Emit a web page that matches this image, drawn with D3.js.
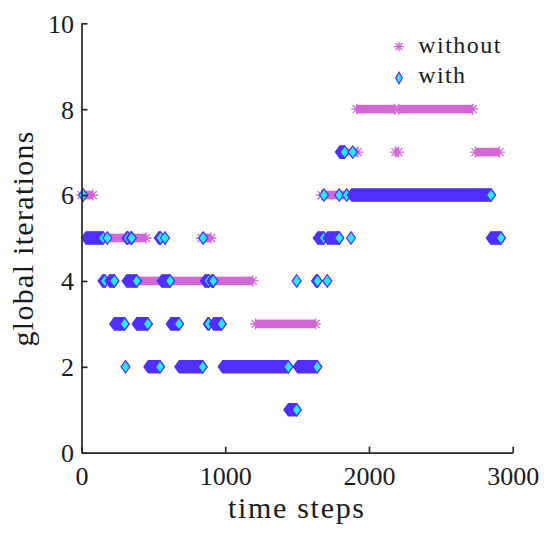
<!DOCTYPE html>
<html lang="en">
<head>
  <meta charset="UTF-8" />
  <title>global iterations vs time steps</title>
  <style>
    *{margin:0;padding:0;box-sizing:border-box}
    body{background:#fff;width:550px;height:537px;overflow:hidden}
  </style>
</head>
<body>
  <div id="chart"></div>

  <script src="https://d3js.org/d3.v7.min.js"></script>
  <script>
    // runs of consecutive time steps sharing the same iteration count
    const withoutStart = [0,   79,  390,  835, 1211, 1671, 1880, 1915, 2184, 2208, 2741];
    const withoutEnd   = [79, 449, 1192,  901, 1628, 1880, 1922, 2178, 2205, 2722, 2908];
    const withoutIter  = [6,    5,    4,    5,    3,    6,    7,    8,    7,    8,    7];

    const withStart = [12, 31, 180, 147, 195, 228, 306, 314, 342, 314, 384, 465, 538, 581, 558, 621, 680, 847,
                       859, 905, 879, 920, 982, 1439, 1497, 1504, 1632, 1644, 1687, 1712, 1710, 1793, 1798,
                       1845, 1875, 1880, 1887, 2847];
    const withEnd   = [12, 150, 180, 163, 228, 300, 306, 322, 349, 384, 461, 546, 550, 581, 616, 678, 843, 847,
                       885, 917, 885, 975, 1439, 1497, 1497, 1640, 1642, 1685, 1687, 1793, 1710, 1793, 1830,
                       1845, 1875, 2849, 1887, 2918];
    const withIter  = [6, 5, 5, 4, 4, 3, 2, 5, 5, 4, 3, 2, 5, 5, 4, 3, 2, 5,
                       4, 4, 3, 3, 2, 1, 4, 2, 4, 5, 6, 5, 4, 6, 7,
                       6, 5, 6, 7, 5];

    const xTicks = [0, 1000, 2000, 3000];
    const yTicks = [0, 2, 4, 6, 8, 10];
    const legendLabels = ['without', 'with'];

    const colors = { without:'#d267d8', edge:'#4f2eff', face:'#22eced', axis:'#262626', text:'#1a1a1a' };
    const font = '"Liberation Serif", "Times New Roman", serif';

    const width = 550, height = 537;
    const x = d3.scaleLinear().domain([0, 3000]).range([81.5, 512.7]);
    const y = d3.scaleLinear().domain([0, 10]).range([452.7, 23.3]);

    const svg = d3.select('#chart').append('svg')
      .attr('width', width).attr('height', height);

    // marker geometry (px)
    const dw = 4.5, dh = 6.2;   // diamond half width / half height
    const ar = 5.5;             // asterisk radius

    const star = (cx, cy, r) => {
      const d = r * 0.72;
      return `M${cx - r},${cy}H${cx + r}M${cx},${cy - r}V${cy + r}` +
             `M${cx - d},${cy - d}L${cx + d},${cy + d}M${cx - d},${cy + d}L${cx + d},${cy - d}`;
    };
    const diamond = (cx, cy, w, h) => `M${cx - w},${cy}L${cx},${cy - h}L${cx + w},${cy}L${cx},${cy + h}Z`;
    const hull = (x0, x1, cy) =>
      `M${x0 - dw},${cy}L${x0},${cy - dh}L${x1},${cy - dh}L${x1 + dw},${cy}L${x1},${cy + dh}L${x0},${cy + dh}Z`;

    // without: stacked asterisks -> solid band with spiky ends
    const without = withoutStart.map((s, i) => ({ s, e: withoutEnd[i], v: withoutIter[i] }));
    const gWo = svg.append('g');
    gWo.selectAll('rect').data(without).join('rect')
      .attr('x', d => x(d.s)).attr('width', d => x(d.e) - x(d.s))
      .attr('y', d => y(d.v) - 4.3).attr('height', 8.6)
      .attr('fill', colors.without);
    gWo.selectAll('path').data(without).join('path')
      .attr('d', d => star(x(d.s), y(d.v), ar) + star(x(d.e), y(d.v), ar))
      .attr('fill', 'none').attr('stroke', colors.without).attr('stroke-width', 1.3);

    // with: stacked diamonds -> blue hull, last diamond on top
    const withRuns = withStart.map((s, i) => ({ s, e: withEnd[i], v: withIter[i] }))
      .sort((a, b) => a.s - b.s);
    const gW = svg.append('g');
    withRuns.forEach(d => {
      if (d.e > d.s) {
        gW.append('path').attr('d', hull(x(d.s), x(d.e), y(d.v)))
          .attr('fill', colors.edge).attr('stroke', colors.edge).attr('stroke-width', 1.2);
      }
      gW.append('path').attr('d', diamond(x(d.e), y(d.v), dw, dh))
        .attr('fill', colors.face).attr('stroke', colors.edge).attr('stroke-width', 1.2);
    });

    // axes (MATLAB style: ticks inward, box off)
    const gx = svg.append('g').attr('transform', `translate(0,${y(0)})`)
      .call(d3.axisBottom(x).tickValues(xTicks).tickSizeInner(-6).tickSizeOuter(0).tickFormat(d3.format('d')));
    gx.selectAll('text').attr('y', 32.5).attr('dy', null);

    const gy = svg.append('g').attr('transform', `translate(${x(0)},0)`)
      .call(d3.axisLeft(y).tickValues(yTicks).tickSizeInner(-6).tickSizeOuter(0));
    gy.selectAll('text').attr('x', -7.5).attr('dy', '0.34em');

    [gx, gy].forEach(g => g.attr('font-family', font).attr('font-size', 26));
    svg.selectAll('.domain, .tick line').attr('stroke', colors.axis).attr('stroke-width', 1.7);
    svg.selectAll('.tick text').attr('fill', colors.text).attr('font-family', font).attr('font-size', 26);

    svg.append('text').attr('x', 296).attr('y', 518)
      .attr('text-anchor', 'middle')
      .attr('font-family', font).attr('font-size', 30).attr('fill', colors.text)
      .attr('textLength', 136).attr('lengthAdjust', 'spacing')
      .text('time steps');

    svg.append('text').attr('transform', 'translate(33,239) rotate(-90)')
      .attr('text-anchor', 'middle')
      .attr('font-family', font).attr('font-size', 30).attr('fill', colors.text)
      .attr('textLength', 215).attr('lengthAdjust', 'spacing')
      .text('global iterations');

    // legend
    const lg = svg.append('g');
    lg.append('path').attr('d', star(399, 46.5, 4.8))
      .attr('fill', 'none').attr('stroke', colors.without).attr('stroke-width', 1.3);
    lg.append('path').attr('d', diamond(399, 78, 3.3, 5.8))
      .attr('fill', colors.face).attr('stroke', colors.edge).attr('stroke-width', 1.2);
    lg.selectAll('text').data(legendLabels).join('text')
      .attr('x', 418.3).attr('y', (d, i) => 53.3 + i * 30)
      .attr('font-family', font).attr('font-size', 24).attr('fill', colors.text)
      .attr('textLength', (d, i) => i ? 46.7 : 82).attr('lengthAdjust', 'spacing')
      .text(d => d);
  </script>
</body>
</html>
